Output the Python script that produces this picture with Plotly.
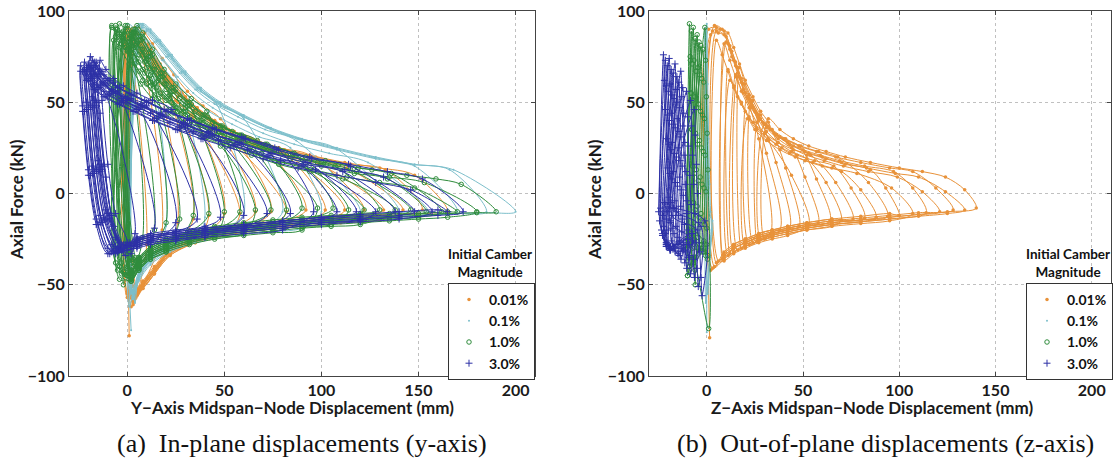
import plotly.graph_objects as go

# ---------------- colours / series names ----------------
SERIES_NAMES = ["0.01%", "0.1%", "1.0%", "3.0%"]
C_OR, C_TL, C_GR, C_BL = "#E8923A", "#7DBFCB", "#2F8C3C", "#2D31A6"

# ================= LEFT PANEL : in-plane (y-axis) =================
# --- 0.01 % (orange)
LOR_ENV_X = [0, 3, 7, 12, 18, 25, 33, 42, 52, 64, 78, 94, 112, 130, 148, 160, 166]
LOR_ENV_Y = [91, 88, 82, 74, 65, 56, 48, 41, 35, 30, 25, 21, 17, 14, 10, 6, 1]
LOR_LOW_X = [168, 150, 130, 110, 90, 70, 50, 35, 22, 14, 8, 3]
LOR_LOW_Y = [-10, -11, -12.5, -14, -16, -18, -21, -25, -32, -42, -50, -58]
LOR_TIP_X = [10, 18, 26, 34, 42, 50, 58, 66, 74, 82, 92, 102, 112, 122, 132, 142, 152, 165]
LOR_TIP_Y = [-28, -20, -16, -14, -12, -11, -11, -10, -10, -10, -9, -9, -9, -9, -9, -9, -9, -10]
LOR_REV = [2, 8, 14, 20, 27, 34, 41, 49, 56, 64, 74, 84, 94, 104, 115, 126, 137, 152]
LOR_DX = [0, 2, 4, 1, 3, 5, 0, 2, 6, 1, 3, 4, 2, 0, 5, 1, 3, 0]
LOR_DY = [0, -2, 0, -4, -1, -3, -5, -2, 0, -6, -1, -4, -2, 0, -5, -3, -1, 0]
LOR_LDY = [-3, 0, -2, 1, -1, 0, -2, 1, 0, -1, 1, 0, -1, 0, 2, -2, 1, 0]
LOR_FOOT_X = [1, 2, 0, 3, 5, 1, 2, 4, 0, 3, 1, 2, 4, 1, 3, 0, 2, 1]
LOR_FOOT_Y = [-78, -62, -55, -58, -52, -56, -50, -54, -57, -51, -55, -53, -50, -52, -56, -54, -51, -53]

# --- 0.1 % (teal)
LTL_ENV_X = [0, 4, 9, 15, 22, 30, 40, 52, 66, 82, 100, 120, 140, 160, 178, 190]
LTL_ENV_Y = [93, 90, 84, 76, 67, 58, 50, 43, 36, 30, 25, 20, 16, 13, 10, 5]
LTL_LOW_X = [200, 185, 170, 150, 130, 110, 90, 70, 50, 35, 22, 12, 6, 3]
LTL_LOW_Y = [-10, -10.5, -11, -12, -13, -14.5, -16, -18, -21, -24, -29, -36, -45, -55]
LTL_TIP_X = [20, 40, 60, 80, 100, 120, 140, 155, 170, 185, 200]
LTL_TIP_Y = [-18, -13, -11, -10, -10, -10, -10, -10, -10, -10, -10]
LTL_REV = [10, 28, 47, 66, 85, 104, 123, 139, 154, 168, 182]
LTL_DX = [0, 3, 6, 8, 2, 5, 7, 4, 8, 6, 8]
LTL_DY = [0, -3, -1, -2, -5, -1, 0, -3, -1, 0, 0]
LTL_LDY = [0, -2, 2, 0, -3, 1, 0, -1, 2, 0, 0]
LTL_FOOT_X = [2, 1, 3, 2, 4, 1, 3, 2, 1, 3, 2]
LTL_FOOT_Y = [-75, -62, -58, -55, -60, -52, -57, -54, -50, -56, -53]

# --- 1.0 % (green)
LGR_ENV_X = [0, 3, 8, 14, 20, 28, 36, 45, 55, 68, 82, 98, 115, 132, 150, 165, 178, 186]
LGR_ENV_Y = [92, 88, 79, 68, 60, 52, 45, 39, 34, 29, 24, 20, 16, 13, 10, 8, 5, 1]
LGR_LOW_X = [192, 180, 165, 150, 135, 120, 105, 90, 75, 60, 45, 32, 20, 12, 6, 2]
LGR_LOW_Y = [-10, -10.5, -11, -12, -13, -14, -15, -16, -17.5, -19, -21, -24, -28, -32, -38, -44]
LGR_TIP_X = [8, 14, 20, 27, 34, 42, 50, 58, 66, 74, 82, 90, 98, 106, 114, 122, 130, 138, 146, 154, 162, 170, 180, 190]
LGR_TIP_Y = [-24, -20, -16, -14, -12, -11, -10, -10, -9, -9, -9, -8, -8, -8, -9, -9, -9, -9, -9, -10, -10, -10, -10, -10]
LGR_REV = [0, 5, 10, 15, 21, 28, 35, 42, 50, 57, 65, 73, 81, 89, 97, 105, 114, 122, 131, 139, 147, 156, 166, 177]
LGR_DX = [-8, -6, -4, -2, 0, 2, 4, 5, -7, -5, -3, -1, 1, 3, 5, -6, -8, -4, 0, 2, 4, -2, 3, -6]
LGR_DY = [0, -2, 1, -3, 0, -6, -4, 0, -8, -2, -5, 0, -7, -2, -3, -6, -1, -8, -3, -5, -2, -7, -4, 0]
LGR_LDY = [0, -3, 2, -1, -4, 3, -2, 1, -3, 2, -1, 0, -4, 2, -2, 1, 3, -3, 0, 2, -1, 1, -2, 0]
LGR_FOOT_X = [-2, 0, -4, 2, -6, 1, 3, -3, 0, 4, -1, 2, -5, 1, 3, 0, -2, 4, -4, 2, 0, -3, 1, 3]
LGR_FOOT_Y = [-50, -45, -40, -48, -38, -42, -36, -44, -40, -35, -46, -38, -42, -37, -40, -36, -43, -39, -47, -35, -41, -38, -44, -36]

# --- 3.0 % (blue)
LBL_RISE_X = [-8, -14, -18, -21]
LBL_RISE_Y = [-28, -12, 15, 50]
LBL_ENV_X = [-22, -19, -15, -10, -3, 5, 15, 27, 40, 55, 72, 90, 110, 130, 148, 160, 168]
LBL_ENV_Y = [72, 67, 62, 58, 54, 50, 45, 40, 35, 30, 24, 19, 15, 11, 7, 4, 1]
LBL_LOW_X = [175, 160, 140, 120, 100, 80, 60, 40, 25, 12, 5]
LBL_LOW_Y = [-10, -11, -12, -13.5, -15, -17, -19, -21, -23, -25, -27]
LBL_TIP_X = [-6, 4, 14, 25, 36, 48, 60, 72, 84, 96, 108, 118, 128, 138, 148, 157, 165, 173]
LBL_TIP_Y = [-24, -22, -19, -16, -14, -13, -12, -11, -11, -10, -10, -10, -10, -10, -10, -10, -10, -10]
LBL_REV = [-17, -10, -2, 8, 19, 30, 42, 54, 66, 78, 90, 100, 110, 120, 130, 140, 150, 160]
LBL_DX = [0, -2, 3, 1, 5, 8, -1, 2, 4, 6, 0, 3, 7, 1, 5, 2, -2, 4]
LBL_DY = [0, -2, 3, -4, -2, 1, -5, -1, -3, 0, -4, -2, -6, -3, 0, -2, -5, 1]
LBL_LDY = [0, -3, 1, -1, 2, 3, -2, 1, 0, -3, 1, 2, -1, 1, 0, -2, 2, -1]
LBL_FOOT_X = [-4, -2, 0, -6, 2, -3, 1, -5, 3, -1, 0, -4, 2, -2, 1, -3, 0, -5]
LBL_FOOT_Y = [-30, -32, -28, -33, -29, -31, -27, -32, -30, -28, -31, -29, -33, -30, -28, -31, -29, -32]

# ================= RIGHT PANEL : out-of-plane (z-axis) =================
# --- 0.01 % (orange)
ROR_ENV_X = [3, 7, 11, 14, 17, 20, 24, 28, 32, 38, 45, 53, 62, 72, 85, 100, 112, 124, 131, 136]
ROR_ENV_Y = [91, 92, 90, 82, 73, 64, 55, 47, 41, 35, 30, 26, 23, 20, 17, 14, 12, 9, 5, 0]
ROR_LOW_X = [140, 125, 110, 95, 80, 65, 52, 42, 34, 27, 20, 14, 9]
ROR_LOW_Y = [-8, -10, -11.5, -13, -14.5, -16, -18, -20, -22, -24, -27, -30, -34]
ROR_TIP_X = [33, 38, 43, 48, 53, 58, 64, 70, 76, 82, 88, 94, 100, 107, 114, 121, 128, 134, 140]
ROR_TIP_Y = [-22, -20, -19, -18, -17, -16, -15, -14.5, -14, -13.5, -13, -12.5, -12, -11, -10.5, -10, -9, -9, -8]
ROR_KNEE_X = [27, 31, 36, 41, 44, 51, 57, 62, 67, 75, 80, 84, 93, 96, 107, 112, 119, 124, 134]
ROR_KNEE_Y = [30, 22, 17, 14, 10, 9, 8, 6, 6, 3, 2, 6, 3, 3, 3, 1, 3, 1, 2]
ROR_REV = [18, 23, 28, 33, 38, 43, 49, 55, 61, 67, 73, 79, 85, 92, 99, 106, 114, 121, 129]
ROR_DX = [-3, -2, -1, 0, -6, -2, -5, -1, -8, -6, -2, -4, 0, -7, -3, -1, -5, -2, 0]
ROR_DY = [0, -1, -4, -2, -6, -3, 0, -7, -2, -5, -8, 0, -4, -6, -2, -5, 0, -3, 0]
ROR_LDY = [0, -2, 2, 0, -3, 1, 0, -2, 2, 1, -1, 0, 2, -2, -1, 0, 1, -1, 0]
ROR_FOOT_X = [1.5, 2, 3, 4, 5, 6, 8, 9, 11, 12, 14, 16, 18, 20, 22, 24, 26, 28, 30]
ROR_FOOT_Y = [-79, -42, -41, -40, -38, -37, -36, -35, -34, -33, -32, -31, -30, -29, -28, -27, -26, -25, -25]

# --- 0.1 % (teal)
RTL_ENV_X = [0, 0.5, 1, 1.5, 2]
RTL_ENV_Y = [93, 60, 30, 5, -10]
RTL_LOW_X = [1.5, 0.5]
RTL_LOW_Y = [-35, -50]
RTL_TIP_X = [2.5, 3, 2]
RTL_TIP_Y = [-20, -15, -25]
RTL_REV = [5, 5, 5]
RTL_DX = [0, -0.5, -1]
RTL_DY = [0, -2, -4]
RTL_LDY = [0, 0, 0]
RTL_FOOT_X = [0, -0.5, 0.5]
RTL_FOOT_Y = [-76, -60, -55]

# --- 1.0 % (green)
RGR_ENV_X = [-9, -8.6, -8.2, -7.8, -7.4, -7, -6.6]
RGR_ENV_Y = [93, 75, 55, 35, 15, -5, -22]
RGR_LOW_X = [-7, -9, -10.5]
RGR_LOW_Y = [-36, -40, -35]
RGR_TIP_X = [-5.5, -4.5, -3.5, -2.5, -1.5, -0.5, 0, 0.5, 1, -6]
RGR_TIP_Y = [-35, -30, -28, -32, -26, -30, -28, -34, -74, -50]
RGR_REV = [5, 5, 5, 5, 5, 5, 5, 5, 5, 5]
RGR_DX = [0, 1, 2, 3, 4, 5, 6, 7, 8, 0.5]
RGR_DY = [0, -4, -2, -8, -6, -10, -12, -14, -2, -20]
RGR_LDY = [0, -2, 1, -1, 0, 2, -1, 1, 0, -2]
RGR_FOOT_X = [-10.5, -10, -9.5, -9, -8.5, -8, -7.5, -7, -6.5, -10]
RGR_FOOT_Y = [-30, -25, -35, -20, -28, -22, -30, -18, -25, -45]

# --- 3.0 % (blue)
RBL_ENV_X = [-22.5, -22, -21.4, -20.8, -20.2, -19.6, -19, -18.4]
RBL_ENV_Y = [76, 62, 46, 30, 14, -2, -16, -26]
RBL_LOW_X = [-19, -21, -23, -24.5]
RBL_LOW_Y = [-30, -28, -22, -12]
RBL_TIP_X = [-17, -16, -15, -14, -13, -12, -11, -10, -9, -8, -7, -5, -3, -1]
RBL_TIP_Y = [-30, -28, -33, -26, -30, -27, -32, -25, -28, -22, -26, -20, -18, -15]
RBL_REV = [5, 5, 5, 5, 5, 5, 5, 5, 5, 5, 5, 5, 5, 5]
RBL_DX = [0, 1, 2, 3, 4, 5, 6, 7, 8, 9, 10, 12, 14, 16]
RBL_DY = [0, -3, -6, -2, -8, -10, -5, -12, -15, -9, -18, -20, -25, -30]
RBL_LDY = [0, -1, 1, 0, -1, 1, 0, -1, 0, 1, -1, 0, 1, 0]
RBL_FOOT_X = [-25, -24.5, -24, -23.5, -23, -22.5, -22, -21.5, -21, -20.5, -20, -19, -18, -17]
RBL_FOOT_Y = [-10, -15, -8, -20, -12, -18, -5, -22, -14, -10, -20, -15, -12, -8]


def build_path(env_x, env_y, low_x, low_y, tip_x, tip_y, rev, dx, dy, ldy,
               foot_x, foot_y, tol, gap, rise_x=(), rise_y=(), knee_x=None, knee_y=None):
    """Chain the read cycles: foot -> (rise) -> envelope -> (knee) -> tip -> return branch."""
    xs, ys = [], []
    n = len(tip_x)
    for i in range(n):
        xs.append(foot_x[i]); ys.append(foot_y[i])
        for rx, ry in zip(rise_x, rise_y):
            xs.append(rx + dx[i]); ys.append(ry + dy[i])
        lim = min(rev[i], knee_x[i] - 1) if knee_x else rev[i]
        for ex, ey in zip(env_x, env_y):
            X = ex + dx[i]
            if X >= foot_x[i] - tol and X <= lim and X < tip_x[i]:
                xs.append(X); ys.append(ey + dy[i])
        if knee_x:
            xs.append(knee_x[i]); ys.append(knee_y[i])
        xs.append(tip_x[i]); ys.append(tip_y[i])
        nxt = foot_x[i + 1] if i + 1 < n else foot_x[i]
        for lx, ly in zip(low_x, low_y):
            if lx < tip_x[i] - gap and lx > nxt + 0.5:
                xs.append(lx); ys.append(ly + ldy[i])
    xs.append(foot_x[-1]); ys.append(foot_y[-1])
    return xs, ys


MARKERS = [
    dict(symbol="circle", size=3.5, color=C_OR),
    dict(symbol="circle", size=2, color=C_TL),
    dict(symbol="circle-open", size=4.5, color=C_GR, line=dict(width=1)),
    dict(symbol="cross-thin-open", size=5, color=C_BL, line=dict(width=1, color=C_BL)),
]
COLORS = [C_OR, C_TL, C_GR, C_BL]

left = [
    build_path(LOR_ENV_X, LOR_ENV_Y, LOR_LOW_X, LOR_LOW_Y, LOR_TIP_X, LOR_TIP_Y, LOR_REV,
               LOR_DX, LOR_DY, LOR_LDY, LOR_FOOT_X, LOR_FOOT_Y, 15, 4),
    build_path(LTL_ENV_X, LTL_ENV_Y, LTL_LOW_X, LTL_LOW_Y, LTL_TIP_X, LTL_TIP_Y, LTL_REV,
               LTL_DX, LTL_DY, LTL_LDY, LTL_FOOT_X, LTL_FOOT_Y, 15, 4),
    build_path(LGR_ENV_X, LGR_ENV_Y, LGR_LOW_X, LGR_LOW_Y, LGR_TIP_X, LGR_TIP_Y, LGR_REV,
               LGR_DX, LGR_DY, LGR_LDY, LGR_FOOT_X, LGR_FOOT_Y, 15, 4),
    build_path(LBL_ENV_X, LBL_ENV_Y, LBL_LOW_X, LBL_LOW_Y, LBL_TIP_X, LBL_TIP_Y, LBL_REV,
               LBL_DX, LBL_DY, LBL_LDY, LBL_FOOT_X, LBL_FOOT_Y, 40, 4, LBL_RISE_X, LBL_RISE_Y),
]
right = [
    build_path(ROR_ENV_X, ROR_ENV_Y, ROR_LOW_X, ROR_LOW_Y, ROR_TIP_X, ROR_TIP_Y, ROR_REV,
               ROR_DX, ROR_DY, ROR_LDY, ROR_FOOT_X, ROR_FOOT_Y, 1, 4,
               knee_x=ROR_KNEE_X, knee_y=ROR_KNEE_Y),
    build_path(RTL_ENV_X, RTL_ENV_Y, RTL_LOW_X, RTL_LOW_Y, RTL_TIP_X, RTL_TIP_Y, RTL_REV,
               RTL_DX, RTL_DY, RTL_LDY, RTL_FOOT_X, RTL_FOOT_Y, 5, 0.3),
    build_path(RGR_ENV_X, RGR_ENV_Y, RGR_LOW_X, RGR_LOW_Y, RGR_TIP_X, RGR_TIP_Y, RGR_REV,
               RGR_DX, RGR_DY, RGR_LDY, RGR_FOOT_X, RGR_FOOT_Y, 5, 0.5),
    build_path(RBL_ENV_X, RBL_ENV_Y, RBL_LOW_X, RBL_LOW_Y, RBL_TIP_X, RBL_TIP_Y, RBL_REV,
               RBL_DX, RBL_DY, RBL_LDY, RBL_FOOT_X, RBL_FOOT_Y, 5, 0.5),
]

fig = go.Figure()
for panel, (xa, ya, lg) in zip([left, right], [("x", "y", "legend"), ("x2", "y2", "legend2")]):
    for k, (xs, ys) in enumerate(panel):
        fig.add_trace(go.Scatter(
            x=xs, y=ys, mode="lines+markers", xaxis=xa, yaxis=ya,
            line=dict(color=COLORS[k], width=1, shape="spline", smoothing=0.9),
            marker=MARKERS[k], showlegend=False, hoverinfo="skip"))
    for k in range(4):
        fig.add_trace(go.Scatter(
            x=[None], y=[None], mode="markers", xaxis=xa, yaxis=ya, legend=lg,
            marker=MARKERS[k], name=SERIES_NAMES[k], showlegend=True))

W, H = 1119, 461
SANS = "Lato"
TICKFONT = dict(family=SANS, size=16, color="#1a1a1a", weight="bold")
axis_common = dict(range=[-30, 210], tickvals=[0, 50, 100, 150, 200], ticks="inside",
                   ticklen=4, tickcolor="#444", showline=True, linecolor="#444",
                   linewidth=1, mirror="ticks", showgrid=True, gridcolor="#c0c0c0",
                   griddash="dot", gridwidth=1, zeroline=False, tickfont=TICKFONT,
                   automargin=False)
yaxis_common = dict(range=[-100, 100], tickvals=[-100, -50, 0, 50, 100], ticks="inside",
                    ticklen=4, tickcolor="#444", showline=True, linecolor="#444",
                    linewidth=1, mirror="ticks", showgrid=True, gridcolor="#c0c0c0",
                    griddash="dot", gridwidth=1, zeroline=False, tickfont=TICKFONT,
                    automargin=False)

LEG = dict(y=1 - 283 / H, xanchor="left", yanchor="top",
           bordercolor="#333", borderwidth=1, bgcolor="white",
           font=dict(family=SANS, size=14, color="#111", weight="bold"), itemwidth=30,
           tracegroupgap=0, itemsizing="trace")
ydom = [1 - 376 / H, 1 - 11 / H]
fig.update_layout(
    width=W, height=H, margin=dict(l=0, r=0, t=0, b=0, autoexpand=False),
    paper_bgcolor="white", plot_bgcolor="white",
    xaxis=dict(domain=[69 / W, 535 / W], anchor="y", **axis_common),
    yaxis=dict(domain=ydom, anchor="x", **yaxis_common),
    xaxis2=dict(domain=[649 / W, 1111 / W], anchor="y2", **axis_common),
    yaxis2=dict(domain=ydom, anchor="x2", **yaxis_common),
    legend=dict(x=448 / W, **LEG),
    legend2=dict(x=1026 / W, **LEG),
)

ann = []
for cx in (490, 1068):
    ann.append(dict(text="Initial Camber<br>Magnitude", x=cx / W, y=1 - 282 / H,
                    xref="paper", yref="paper", xanchor="center", yanchor="bottom",
                    showarrow=False, font=dict(family=SANS, size=13.5, color="#111", weight="bold")))
ann.append(dict(text="Y\u2212Axis Midspan\u2212Node Displacement (mm)", x=292 / W, y=1 - 407 / H,
                xref="paper", yref="paper", xanchor="center", yanchor="middle", showarrow=False,
                font=dict(family=SANS, size=17, color="#1a1a1a", weight="bold")))
ann.append(dict(text="Z\u2212Axis Midspan\u2212Node Displacement (mm)", x=872 / W, y=1 - 407 / H,
                xref="paper", yref="paper", xanchor="center", yanchor="middle", showarrow=False,
                font=dict(family=SANS, size=17, color="#1a1a1a", weight="bold")))
for cx in (16, 594):
    ann.append(dict(text="Axial Force (kN)", x=cx / W, y=1 - 200 / H, textangle=-90,
                    xref="paper", yref="paper", xanchor="center", yanchor="middle", showarrow=False,
                    font=dict(family=SANS, size=17, color="#1a1a1a", weight="bold")))
ann.append(dict(text="(a)&nbsp;&nbsp;In-plane displacements (y-axis)", x=302 / W, y=1 - 443 / H,
                xref="paper", yref="paper", xanchor="center", yanchor="middle", showarrow=False,
                font=dict(family="Liberation Serif", size=26, color="#111")))
ann.append(dict(text="(b)&nbsp;&nbsp;Out-of-plane displacements (z-axis)", x=885 / W, y=1 - 443 / H,
                xref="paper", yref="paper", xanchor="center", yanchor="middle", showarrow=False,
                font=dict(family="Liberation Serif", size=26, color="#111")))
fig.update_layout(annotations=ann)

fig.write_html("out.html")
